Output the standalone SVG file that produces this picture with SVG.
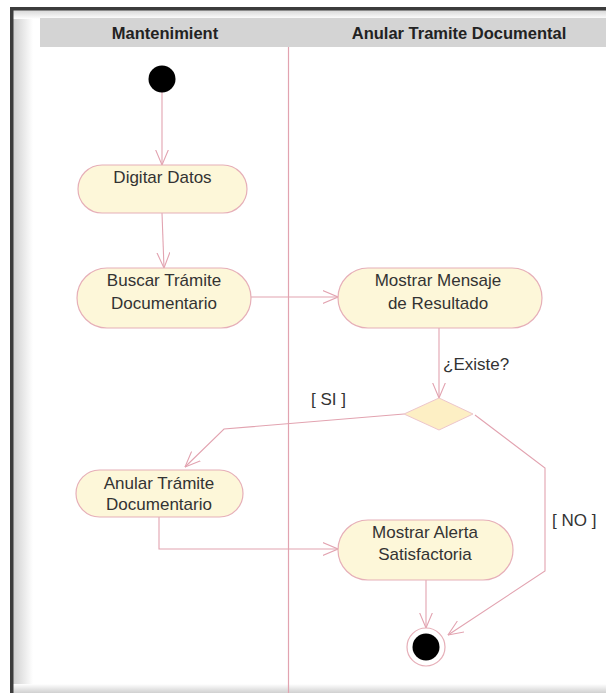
<svg xmlns="http://www.w3.org/2000/svg" width="606" height="693" viewBox="0 0 606 693">
<style>
.node{fill:#fdf7d9;stroke:#e6afb8;stroke-width:1.2}
.dec{fill:#fdefc4;stroke:#edc6cc;stroke-width:1}
.lbl{font-family:"Liberation Sans",Arial,sans-serif;font-size:17px;fill:#333;text-anchor:middle}
.glbl{font-family:"Liberation Sans",Arial,sans-serif;font-size:17px;fill:#333}
.hdr{font-family:"Liberation Sans",Arial,sans-serif;font-size:16.5px;font-weight:bold;fill:#222;text-anchor:middle}
.conn{fill:none;stroke:#e2a3b0;stroke-width:1.1}
.lane{stroke:#e2a3b0;stroke-width:1.2}
</style>
<defs>
<marker id="arr" markerUnits="userSpaceOnUse" viewBox="0 0 16 14" refX="15.5" refY="7" markerWidth="16" markerHeight="14" orient="auto">
<path d="M0,0.5 L15.5,7 L0,13.5" fill="none" stroke="#e2a3b0" stroke-width="1.1"/>
</marker>
<linearGradient id="gl" x1="0" x2="1" y1="0" y2="0">
<stop offset="0" stop-color="#cfcfcf"/><stop offset="1" stop-color="#ffffff"/>
</linearGradient>
<linearGradient id="gt" x1="0" x2="0" y1="0" y2="1">
<stop offset="0" stop-color="#d6d6d6"/><stop offset="1" stop-color="#ffffff"/>
</linearGradient>
<linearGradient id="gb" x1="0" x2="0" y1="0" y2="1">
<stop offset="0" stop-color="#ffffff"/><stop offset="1" stop-color="#d0d0d0"/>
</linearGradient>
</defs>
<rect x="0" y="0" width="606" height="693" fill="#fff"/>
<g id="frame">
<rect x="13" y="10" width="20" height="683" fill="url(#gl)"/>
<rect x="13" y="10" width="593" height="9" fill="url(#gt)"/>
<rect x="13" y="684" width="593" height="9" fill="url(#gb)"/>
<rect x="10" y="7" width="596" height="3.5" fill="#3c3c3c"/>
<rect x="10" y="7" width="3.5" height="686" fill="#3c3c3c"/>
</g>
<g id="header">
<rect x="40" y="18" width="566" height="29" fill="#d4d4d4"/>
<text class="hdr" x="165" y="39">Mantenimient</text>
<text class="hdr" x="459" y="39">Anular Tramite Documental</text>
</g>
<line class="lane" x1="288.5" y1="47" x2="288.5" y2="693"/>
<g id="connectors">
<line class="conn" x1="162" y1="92" x2="162" y2="165" marker-end="url(#arr)"/>
<line class="conn" x1="162" y1="213" x2="164" y2="268" marker-end="url(#arr)"/>
<line class="conn" x1="251" y1="297" x2="338" y2="297" marker-end="url(#arr)"/>
<line class="conn" x1="439" y1="328" x2="439" y2="398" marker-end="url(#arr)"/>
<polyline class="conn" points="404,414 224,429 185,467" marker-end="url(#arr)"/>
<polyline class="conn" points="475,415 545,468 545,571 448,635" marker-end="url(#arr)"/>
<polyline class="conn" points="159,517 159,549 338,549" marker-end="url(#arr)"/>
<line class="conn" x1="426" y1="580" x2="426" y2="628" marker-end="url(#arr)"/>
<text class="glbl" x="443" y="370">¿Existe?</text>
<text class="glbl" x="311" y="405">[ SI ]</text>
<text class="glbl" x="552" y="526">[ NO ]</text>
</g>
<g id="start">
<circle cx="162" cy="79" r="13.5" fill="#000"/>
</g>
<g id="digitar">
<rect class="node" x="78" y="165" width="169" height="48" rx="24"/>
<text class="lbl" x="162.5" y="183">Digitar Datos</text>
</g>
<g id="buscar">
<rect class="node" x="77" y="268" width="174" height="60" rx="30"/>
<text class="lbl" x="164" y="286">Buscar Trámite</text>
<text class="lbl" x="164" y="309">Documentario</text>
</g>
<g id="mensaje">
<rect class="node" x="338" y="268" width="204" height="60" rx="30"/>
<text class="lbl" x="438" y="286">Mostrar Mensaje</text>
<text class="lbl" x="438" y="309">de Resultado</text>
</g>
<g id="decision">
<polygon class="dec" points="439,398 473,414 439,430 404,414"/>
</g>
<g id="anular">
<rect class="node" x="76" y="470" width="167" height="47" rx="23.5"/>
<text class="lbl" x="159" y="489">Anular Trámite</text>
<text class="lbl" x="159" y="510">Documentario</text>
</g>
<g id="alerta">
<rect class="node" x="338" y="520" width="175" height="60" rx="30"/>
<text class="lbl" x="425" y="538">Mostrar Alerta</text>
<text class="lbl" x="425" y="560">Satisfactoria</text>
</g>
<g id="final">
<circle cx="426" cy="647" r="19" fill="#fff" stroke="#e6afb8" stroke-width="1.2"/>
<circle cx="426" cy="647" r="13.5" fill="#000"/>
</g>
</svg>
